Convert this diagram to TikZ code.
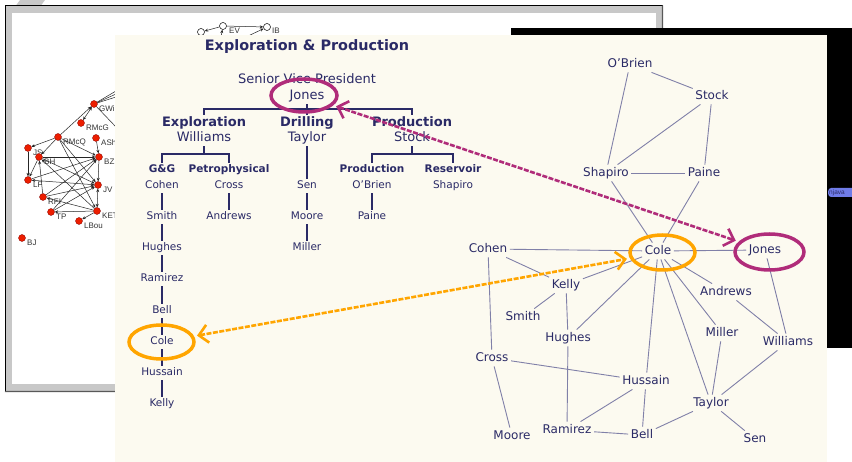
\documentclass[tikz,border=0pt]{standalone}
\usepackage{fontspec}
\setmainfont{DejaVu Sans}
\newfontfamily\smallsans{Liberation Sans}
\usetikzlibrary{arrows.meta,shapes.geometric}
\definecolor{beige}{RGB}{252,250,240}
\definecolor{navy}{RGB}{42,42,102}
\definecolor{edgec}{RGB}{128,128,168}
\definecolor{magen}{RGB}{176,44,122}
\definecolor{orng}{RGB}{255,165,0}
\definecolor{framegray}{RGB}{200,200,200}
\definecolor{reddot}{RGB}{236,30,0}
\definecolor{btnblue}{RGB}{112,124,232}
\newcommand\rednode[4]{\node[rdot] (#1) at (#2,#3) {}; \node[rlab] (#1l) at ({#2+5},{#3+5}) {#4};}
\begin{document}
\begin{tikzpicture}[x=1pt,y=-1pt,
  ttl/.style={font=\fontsize{14.4}{16}\selectfont\bfseries, text=navy, inner sep=0pt},
  hdr/.style={font=\fontsize{13}{15}\selectfont\bfseries, text=navy, inner sep=2pt, text height=9.5pt, text depth=2.5pt},
  lvA/.style={font=\fontsize{13}{15}\selectfont, text=navy, inner sep=2pt, text height=9.5pt, text depth=2.5pt},
  subhdr/.style={font=\fontsize{10.5}{12}\selectfont\bfseries, text=navy, inner sep=2pt, text height=7.8pt, text depth=2pt},
  lvB/.style={font=\fontsize{10.5}{12}\selectfont, text=navy, inner sep=2pt, text height=7.8pt, text depth=2pt},
  orgline/.style={draw=navy, line width=1.1pt},
  netnode/.style={font=\fontsize{12}{14}\selectfont, text=navy, inner sep=2.5pt, text height=9pt, text depth=2.4pt},
  netedge/.style={draw=edgec, line width=0.9pt},
  rdot/.style={circle, fill=reddot, draw=red!50!black, line width=0.3pt, minimum size=7pt, inner sep=0pt},
  odot/.style={circle, fill=white, draw=black, line width=0.5pt, minimum size=7pt, inner sep=0pt},
  rlab/.style={font=\smallsans\fontsize{8}{9}\selectfont, text=black!80, inner sep=0pt, anchor=west},
  redge/.style={draw=black!85, line width=0.5pt},
  rarr/.style={redge, -{Stealth[length=3.5pt,width=3pt]}},
  rdbl/.style={redge, {Stealth[length=3.5pt,width=3pt]}-{Stealth[length=3.5pt,width=3pt]}},
  hiell/.style={draw, line width=3.5pt, ellipse, inner sep=0pt},
  hiarrow/.style={line width=2.6pt, dash pattern=on 5pt off 1.5pt, shorten <=3pt, shorten >=3pt,
     {Straight Barb[length=9pt,width=18pt]}-{Straight Barb[length=9pt,width=18pt]}},
]
\useasboundingbox (0,0) rectangle (852,462);
\clip (0,0) rectangle (852,462);
\fill[white] (0,0) rectangle (852,462);
% tab at top left
\fill[framegray] (20,0) -- (45,0) -- (41,5.5) -- (16,5.5) -- cycle;
% back window
\fill[framegray] (5,5) rectangle (663,392);
\fill[white] (12,13) rectangle (656,384);
\draw[black, line width=1pt] (5,392) -- (5,5.5) -- (663,5.5);
\draw[black!65, line width=1.2pt] (662.5,5.5) -- (662.5,392) -- (5,391.5);
% red network
\rednode{gwi}{94}{104}{GWi}
\rednode{rmcg}{81}{123}{RMcG}
\rednode{rmcq}{58}{137}{RMcQ}
\rednode{ash}{96}{138}{ASh}
\rednode{js}{28}{148}{JS}
\rednode{bh}{39}{157}{BH}
\rednode{bz}{99}{157}{BZ}
\rednode{lf}{28}{180}{LF}
\rednode{jv}{98}{185}{JV}
\rednode{rfi}{43}{197}{RFI}
\rednode{tp}{51}{212}{TP}
\rednode{ket}{97}{211}{KET}
\rednode{lbou}{79}{221}{LBou}
\rednode{bj}{22}{238}{BJ}
\draw[rarr] (rmcq) -- (gwi);
\draw[rdbl] (rmcg) -- (gwi);
\draw[rarr] (rmcq) -- (js);
\draw[rarr] (rmcq) -- (bh);
\draw[rarr] (rmcq) -- (bz);
\draw[rarr] (rmcq) -- (ket);
\draw[rarr] (rmcq) -- (jv);
\draw[rarr] (ash) -- (bz);
\draw[rarr] (bh) -- (bz);
\draw[rarr] (js) -- (lf);
\draw[rarr] (bh) -- (lf);
\draw[rarr] (bh) -- (jv);
\draw[rarr] (ket) -- (bh);
\draw[rarr] (rfi) -- (bh);
\draw[rarr] (lf) -- (bz);
\draw[rdbl] (lf) -- (jv);
\draw[rarr] (rfi) -- (jv);
\draw[rarr] (rfi) -- (bz);
\draw[rarr] (tp) -- (bz);
\draw[rarr] (tp) -- (jv);
\draw[rarr] (ket) -- (tp);
\draw[rarr] (ket) -- (rfi);
\draw[rarr] (ket) -- (lbou);
\draw[rdbl] (jv) -- (ket);
\draw[rarr] (bz) -- (jv);
\coordinate (gx1) at (116,91);
\coordinate (gx2) at (116,94);
\coordinate (gx3) at (116,97);
\coordinate (gx4) at (116,127);
\draw[redge] (gwi) -- (gx1);
\draw[redge] (gwi) -- (gx2);
\draw[redge] (gwi) -- (gx3);
\draw[redge] (gwi) -- (gx4);
% open nodes at top
\node[odot] (ob1) at (201,32) {};
\node[odot] (ev) at (223,26) {};
\node[odot] (ib) at (267,27) {};
\node[rlab] (evl) at (229,31) {EV};
\node[rlab] (ibl) at (272,31) {IB};
\coordinate (ibsrc) at (246,37);
\coordinate (evsrc) at (221,37);
\draw[rarr] (ev) -- (ob1);
\draw[rarr] (ev) -- (ib);
\draw[rarr] (ibsrc) -- (ib);
\draw[rarr] (evsrc) -- (ev);
% black window
\fill[black] (511,28) rectangle (852,348);
\node[fill=btnblue, rounded corners=3pt, inner sep=1pt, minimum height=9pt, text width=30pt,
  font=\smallsans\fontsize{6.5}{7}\selectfont, text=navy, anchor=west] (btnj) at (828,192.5) {njava};
% beige panel
\fill[beige] (115,35) rectangle (827,462);
% ---------------- org chart ----------------
\node[ttl] (ttlnode) at (307,47) {Exploration \& Production};
\node[lvA] (svp) at (307,80) {Senior Vice President};
\node[lvA] (jonesA) at (307,96) {Jones};
\node[hdr] (expl) at (204,123) {Exploration};
\node[lvA] (willA) at (204,138) {Williams};
\node[hdr] (drill) at (307,123) {Drilling};
\node[lvA] (taylA) at (307,138) {Taylor};
\node[hdr] (prod) at (412,123) {Production};
\node[lvA] (stockA) at (412,138) {Stock};
\coordinate (barT) at (307,109);
\draw[orgline] (jonesA) -- (drill);
\draw[orgline] (expl.north) |- (barT) -| (prod.north);
% Exploration branch
\node[subhdr] (gg) at (162,170) {G\&G};
\node[subhdr] (petro) at (229,170) {Petrophysical};
\node[lvB] (cohenA) at (162,186) {Cohen};
\node[lvB] (crossA) at (229,186) {Cross};
\coordinate (barW) at (204,154);
\draw[orgline] (willA) -- (barW);
\draw[orgline] (gg.north) |- (barW) -| (petro.north);
\node[lvB] (smithA) at (162,217) {Smith};
\node[lvB] (hughA) at (162,248) {Hughes};
\node[lvB] (ramA) at (162,279) {Ramirez};
\node[lvB] (bellA) at (162,311) {Bell};
\node[lvB] (coleA) at (162,342) {Cole};
\node[lvB] (hussA) at (162,373) {Hussain};
\node[lvB] (kellyA) at (162,404) {Kelly};
\draw[orgline] (cohenA) -- (smithA);
\draw[orgline] (smithA) -- (hughA);
\draw[orgline] (hughA) -- (ramA);
\draw[orgline] (ramA) -- (bellA);
\draw[orgline] (bellA) -- (coleA);
\draw[orgline] (coleA) -- (hussA);
\draw[orgline] (hussA) -- (kellyA);
\node[lvB] (andrA) at (229,217) {Andrews};
\draw[orgline] (crossA) -- (andrA);
% Drilling branch
\node[lvB] (senA) at (307,186) {Sen};
\node[lvB] (mooreA) at (307,217) {Moore};
\node[lvB] (millA) at (307,248) {Miller};
\draw[orgline] (taylA) -- (senA);
\draw[orgline] (senA) -- (mooreA);
\draw[orgline] (mooreA) -- (millA);
% Production branch
\node[subhdr] (prodS) at (372,170) {Production};
\node[subhdr] (resv) at (453,170) {Reservoir};
\node[lvB] (obA) at (372,186) {O'Brien};
\node[lvB] (shapA) at (453,186) {Shapiro};
\node[lvB] (paineA) at (372,217) {Paine};
\coordinate (barS) at (412,154);
\draw[orgline] (stockA) -- (barS);
\draw[orgline] (prodS.north) |- (barS) -| (resv.north);
\draw[orgline] (obA) -- (paineA);
% ---------------- network ----------------
\node[netnode] (oB) at (630,64) {O'Brien};
\node[netnode] (stB) at (712,96) {Stock};
\node[netnode] (shB) at (606,173) {Shapiro};
\node[netnode] (paB) at (704,173) {Paine};
\node[netnode] (coB) at (658,251) {Cole};
\node[netnode] (joB) at (765,250) {Jones};
\node[netnode] (chB) at (488,249) {Cohen};
\node[netnode] (keB) at (566,285) {Kelly};
\node[netnode] (smB) at (523,317) {Smith};
\node[netnode] (huB) at (568,338) {Hughes};
\node[netnode] (anB) at (726,292) {Andrews};
\node[netnode] (miB) at (722,333) {Miller};
\node[netnode] (wiB) at (788,342) {Williams};
\node[netnode] (crB) at (492,358) {Cross};
\node[netnode] (hsB) at (646,381) {Hussain};
\node[netnode] (taB) at (711,403) {Taylor};
\node[netnode] (moB) at (512,436) {Moore};
\node[netnode] (raB) at (567,430) {Ramirez};
\node[netnode] (beB) at (642,435) {Bell};
\node[netnode] (seB) at (755,439) {Sen};
\foreach \a/\b in {oB/stB, oB/shB, stB/shB, stB/paB, shB/paB, shB/coB, paB/coB,
  chB/coB, coB/joB, chB/keB, chB/crB, keB/coB, keB/smB, keB/huB, huB/raB,
  coB/huB, coB/hsB, hsB/beB, coB/taB, coB/miB, coB/anB, miB/taB, anB/wiB,
  joB/wiB, wiB/taB, taB/seB, taB/beB, beB/raB, raB/hsB, hsB/crB, crB/moB}
  \draw[netedge] (\a) -- (\b);
% ---------------- highlights ----------------
\node[hiell, draw=magen, minimum width=66pt, minimum height=33pt] (elJa) at (304,95.5) {};
\node[hiell, draw=magen, minimum width=69pt, minimum height=36pt] (elJb) at (769.5,252) {};
\node[hiell, draw=orng, minimum width=65pt, minimum height=35pt] (elCb) at (662.5,252.5) {};
\node[hiell, draw=orng, minimum width=65pt, minimum height=34pt] (elCa) at (161.5,342) {};
\draw[hiarrow, draw=magen] (elJa) -- (elJb);
\draw[hiarrow, draw=orng] (elCa) -- (elCb);
\end{tikzpicture}
\end{document}
